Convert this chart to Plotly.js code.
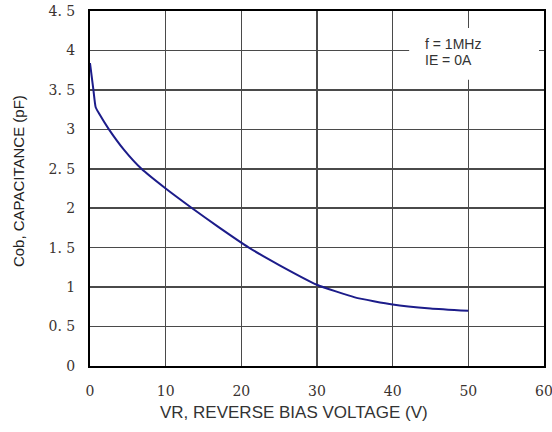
<!DOCTYPE html>
<html>
<head>
<meta charset="utf-8">
<script src="https://cdn.plot.ly/plotly-3.0.1.min.js"></script>
<style>html,body{margin:0;padding:0;background:#fff;}#chart{width:552px;height:432px;}</style>
</head>
<body>
<div id="chart"></div>
<script>
var voltage = [0, 0.45, 0.75, 1.2, 2.5, 4.5, 6.8, 10, 13.5, 17, 21, 25, 30, 35, 40, 45, 50];
var capacitance = [3.84, 3.5, 3.28, 3.2, 3.0, 2.74, 2.5, 2.25, 2.0, 1.76, 1.5, 1.28, 1.03, 0.87, 0.78, 0.73, 0.70];
var xTicks = [0, 10, 20, 30, 40, 50, 60];
var yTicks = [0, 0.5, 1, 1.5, 2, 2.5, 3, 3.5, 4, 4.5];
var yTickLabels = ["0", "0. 5", "1", "1. 5", "2", "2. 5", "3", "3. 5", "4", "4. 5"];
var noteLines = ["f = 1MHz", "IE = 0A"];
var xTitle = 'VR, REVERSE BIAS VOLTAGE (V)';
var yTitle = 'Cob, CAPACITANCE (pF)';

var serif = "DejaVu Serif";
var sans = "Liberation Sans";
var trace = {
  x: voltage, y: capacitance, type: 'scatter', mode: 'lines',
  line: {color: '#1c1c8a', width: 2, shape: 'spline', smoothing: 0.5},
  hoverinfo: 'none'
};
var axisCommon = {
  showgrid: true, gridcolor: '#4a4a4a', gridwidth: 1.5,
  zeroline: false, showline: true, linecolor: '#000', linewidth: 2, mirror: true,
  tickcolor: 'rgba(0,0,0,0)', ticks: 'outside', ticklabeloverflow: 'allow',
  tickfont: {family: serif, size: 14, color: '#3a3330'}
};
var noteAnn = noteLines.map(function (t, i) {
  return {
    xref: 'paper', yref: 'paper', x: 0.7338, y: [0.907, 0.862][i], xanchor: 'left', yanchor: 'middle',
    text: t, showarrow: false, font: {family: sans, size: 14, color: '#333'}
  };
});
var layout = {
  width: 552, height: 432,
  margin: {l: 90, r: 8, t: 11, b: 66},
  paper_bgcolor: '#fff', plot_bgcolor: '#fff',
  showlegend: false,
  xaxis: Object.assign({}, axisCommon, {range: [0, 60], tickvals: xTicks, ticktext: xTicks.map(String), ticklen: 11}),
  yaxis: Object.assign({}, axisCommon, {range: [0, 4.5], tickvals: yTicks, ticktext: yTickLabels, ticklen: 10}),
  shapes: [{
    type: 'rect', xref: 'paper', yref: 'paper', layer: 'above',
    x0: 0.7030, x1: 0.9890, y0: 0.806, y1: 0.952,
    fillcolor: '#fff', line: {width: 0}
  }],
  annotations: noteAnn.concat([{
    xref: 'paper', yref: 'paper', x: 0.45, y: -0.13, xanchor: 'center', yanchor: 'middle',
    text: xTitle, showarrow: false,
    font: {family: sans, size: 17, color: '#333'}
  }, {
    xref: 'paper', yref: 'paper', x: -0.157, y: 0.52, xanchor: 'center', yanchor: 'middle',
    text: yTitle, showarrow: false, textangle: -90,
    font: {family: sans, size: 15, color: '#222'}
  }])
};
Plotly.newPlot('chart', [trace], layout, {displayModeBar: false, staticPlot: true});
</script>
</body>
</html>
